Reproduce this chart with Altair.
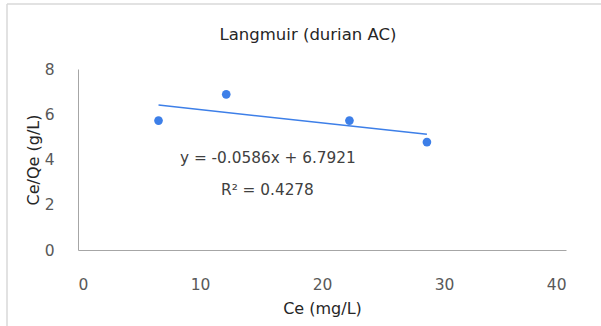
import altair as alt
import pandas as pd

ce = [6.6, 12.15, 22.25, 28.6]
ce_qe = [5.72, 6.88, 5.72, 4.77]
slope = -0.0586
intercept = 6.7921
r2 = 0.4278
x_ticks = [0, 10, 20, 30, 40]
y_ticks = [0, 2, 4, 6, 8]
title_text = "Langmuir (durian AC)"

pts = pd.DataFrame({"Ce": ce, "CeQe": ce_qe})
xl = [min(ce), max(ce)]
trend = pd.DataFrame({"Ce": xl, "CeQe": [intercept + slope * v for v in xl]})

FONT = "DejaVu Sans"
BLUE = "#3d7fe8"

xsc = alt.Scale(domain=[0, 40], nice=False)
ysc = alt.Scale(domain=[0, 8], nice=False)

xaxis = alt.Axis(values=x_ticks, title="Ce (mg/L)", grid=False, ticks=False,
                 domainColor="#a6a6a6", labelPadding=27, labelFontSize=15.5,
                 labelColor="#595959", titleFontSize=16, titleColor="#262626",
                 titleFontWeight="normal", titlePadding=8, labelFont=FONT, titleFont=FONT)
yaxis = alt.Axis(values=y_ticks, title="Ce/Qe (g/L)", grid=False, ticks=False,
                 domainColor="#a6a6a6", labelPadding=24, labelFontSize=15.5,
                 labelColor="#595959", titleFontSize=16, titleColor="#262626",
                 titleFontWeight="normal", titlePadding=3, labelFont=FONT, titleFont=FONT)

points = alt.Chart(pts).mark_circle(size=75, color=BLUE, opacity=1).encode(
    x=alt.X("Ce:Q", scale=xsc, axis=xaxis),
    y=alt.Y("CeQe:Q", scale=ysc, axis=yaxis),
)
line = alt.Chart(trend).mark_line(color=BLUE, strokeWidth=1.5).encode(
    x=alt.X("Ce:Q", scale=xsc), y=alt.Y("CeQe:Q", scale=ysc)
)

eq_text = f"y = {slope}x + {intercept}"
r2_text = f"R² = {r2}"
t1 = alt.Chart(pd.DataFrame({"t": [eq_text]})).mark_text(
    align="left", baseline="middle", font=FONT, fontSize=15.3, color="#404040"
).encode(text="t:N", x=alt.value(102), y=alt.value(89))
t2 = alt.Chart(pd.DataFrame({"t": [r2_text]})).mark_text(
    align="left", baseline="middle", font=FONT, fontSize=15.3, color="#404040"
).encode(text="t:N", x=alt.value(143), y=alt.value(121))
tt = alt.Chart(pd.DataFrame({"t": [title_text]})).mark_text(
    align="center", baseline="middle", font=FONT, fontSize=16.5, color="#262626"
).encode(text="t:N", x=alt.value(230), y=alt.value(-34))

frame_top = alt.Chart(pd.DataFrame({"a": [0]})).mark_rule(color="#d9d9d9", strokeWidth=1.5).encode(
    x=alt.value(-71), x2=alt.value(560), y=alt.value(-65))
frame_left = alt.Chart(pd.DataFrame({"a": [0]})).mark_rule(color="#d9d9d9", strokeWidth=1.5).encode(
    x=alt.value(-71), y=alt.value(-65), y2=alt.value(300))

chart = alt.layer(frame_top, frame_left, line, points, t1, t2, tt).properties(
    width=488, height=181,
    autosize=alt.AutoSizeParams(type="none"),
    padding={"left": 78, "top": 69, "right": 35, "bottom": 76},
).configure_view(stroke=None)

chart.save("out.html", embed_options={"renderer": "svg", "actions": False})
